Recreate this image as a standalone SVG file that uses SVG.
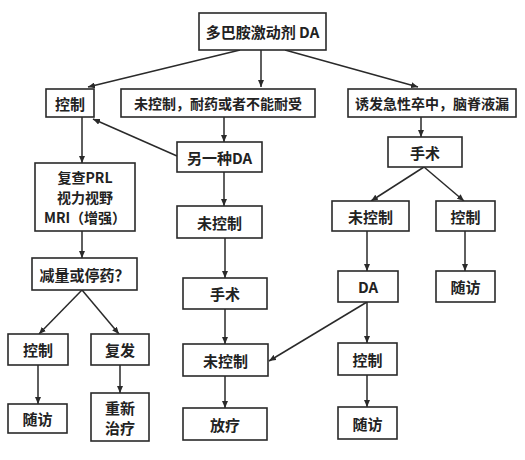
<svg xmlns="http://www.w3.org/2000/svg" width="525" height="460" viewBox="0 0 525 460">
<defs>
<style>
.box{fill:#fff;stroke:#2a2a2a;stroke-width:1.6}
.t{font-family:"Noto Sans CJK SC","Liberation Serif",serif;font-size:15px;font-weight:700;fill:#222;text-anchor:middle;dominant-baseline:central}
.s{font-size:14px}
.m{font-size:14px}
.c line{stroke:#2a2a2a;stroke-width:1.5;marker-end:url(#ah)}
</style>
<marker id="ah" markerUnits="userSpaceOnUse" markerWidth="8" markerHeight="6" refX="7" refY="3" orient="auto">
<path d="M0,0 L7,3 L0,6 z" fill="#2a2a2a"/>
</marker>
</defs>
<rect width="525" height="460" fill="#fff"/>
<g class="c" id="connectors">
<line x1="240" y1="50" x2="88" y2="87"/>
<line x1="261" y1="50" x2="261" y2="87"/>
<line x1="285" y1="50" x2="418" y2="87"/>
<line x1="224" y1="117" x2="224" y2="142"/>
<line x1="177" y1="156" x2="93" y2="119"/>
<line x1="421" y1="117" x2="421" y2="137"/>
<line x1="82" y1="117" x2="82" y2="163"/>
<line x1="224" y1="172" x2="224" y2="206"/>
<line x1="82" y1="231" x2="82" y2="258"/>
<line x1="225" y1="238" x2="225" y2="278"/>
<line x1="424" y1="167" x2="371" y2="201"/>
<line x1="424" y1="167" x2="464" y2="201"/>
<line x1="82" y1="290" x2="39" y2="334"/>
<line x1="82" y1="290" x2="119" y2="334"/>
<line x1="367" y1="231" x2="367" y2="271"/>
<line x1="465" y1="231" x2="465" y2="271"/>
<line x1="225" y1="309" x2="225" y2="344"/>
<line x1="367" y1="302" x2="269" y2="361"/>
<line x1="367" y1="302" x2="367" y2="343"/>
<line x1="38" y1="365" x2="38" y2="404"/>
<line x1="120" y1="365" x2="120" y2="393"/>
<line x1="225" y1="376" x2="225" y2="408"/>
<line x1="367" y1="375" x2="367" y2="407"/>
</g>
<g id="n-top"><rect class="box" x="199" y="13" width="127" height="37"/><text class="t" x="262.5" y="31.5">多巴胺激动剂 DA</text></g>
<g id="n-ctrl1"><rect class="box" x="46" y="89" width="48" height="28"/><text class="t" x="70" y="103">控制</text></g>
<g id="n-unctrl1"><rect class="box" x="121" y="89" width="194" height="28"/><text class="t s" x="218" y="103">未控制，耐药或者不能耐受</text></g>
<g id="n-stroke"><rect class="box" x="348" y="89" width="168" height="28"/><text class="t s" x="432" y="103">诱发急性卒中，脑脊液漏</text></g>
<g id="n-otherda"><rect class="box" x="177" y="142" width="85" height="30"/><text class="t" x="219.5" y="157">另一种DA</text></g>
<g id="n-surg1"><rect class="box" x="388" y="137" width="74" height="30"/><text class="t" x="425" y="152">手术</text></g>
<g id="n-recheck"><rect class="box" x="35" y="163" width="100" height="68"/><text class="t m" x="85" y="177">复查PRL</text><text class="t m" x="85" y="197">视力视野</text><text class="t m" x="85" y="217">MRI（增强）</text></g>
<g id="n-unctrl2"><rect class="box" x="177" y="206" width="85" height="32"/><text class="t" x="219.5" y="222">未控制</text></g>
<g id="n-unctrl3"><rect class="box" x="332" y="201" width="77" height="30"/><text class="t" x="370.5" y="216">未控制</text></g>
<g id="n-ctrl3"><rect class="box" x="436" y="201" width="59" height="30"/><text class="t" x="465.5" y="216">控制</text></g>
<g id="n-reduce"><rect class="box" x="32" y="258" width="105" height="32"/><text class="t" x="84.5" y="274">减量或停药？</text></g>
<g id="n-surg2"><rect class="box" x="183" y="278" width="84" height="31"/><text class="t" x="225" y="293.5">手术</text></g>
<g id="n-da"><rect class="box" x="338" y="271" width="60" height="31"/><text class="t" x="368" y="286.5">DA</text></g>
<g id="n-fu3"><rect class="box" x="436" y="271" width="59" height="31"/><text class="t" x="465.5" y="286.5">随访</text></g>
<g id="n-ctrl4"><rect class="box" x="8" y="334" width="60" height="31"/><text class="t" x="38" y="349.5">控制</text></g>
<g id="n-relapse"><rect class="box" x="91" y="334" width="58" height="31"/><text class="t" x="120" y="349.5">复发</text></g>
<g id="n-unctrl4"><rect class="box" x="183" y="344" width="85" height="32"/><text class="t" x="225.5" y="360">未控制</text></g>
<g id="n-ctrl5"><rect class="box" x="338" y="343" width="59" height="32"/><text class="t" x="367.5" y="359">控制</text></g>
<g id="n-fu4"><rect class="box" x="8" y="404" width="59" height="29"/><text class="t" x="37.5" y="418.5">随访</text></g>
<g id="n-retreat"><rect class="box" x="91" y="393" width="58" height="48"/><text class="t" x="120" y="407">重新</text><text class="t" x="120" y="427">治疗</text></g>
<g id="n-radio"><rect class="box" x="183" y="408" width="84" height="32"/><text class="t" x="225" y="424">放疗</text></g>
<g id="n-fu5"><rect class="box" x="338" y="407" width="59" height="32"/><text class="t" x="367.5" y="423">随访</text></g>
</svg>
